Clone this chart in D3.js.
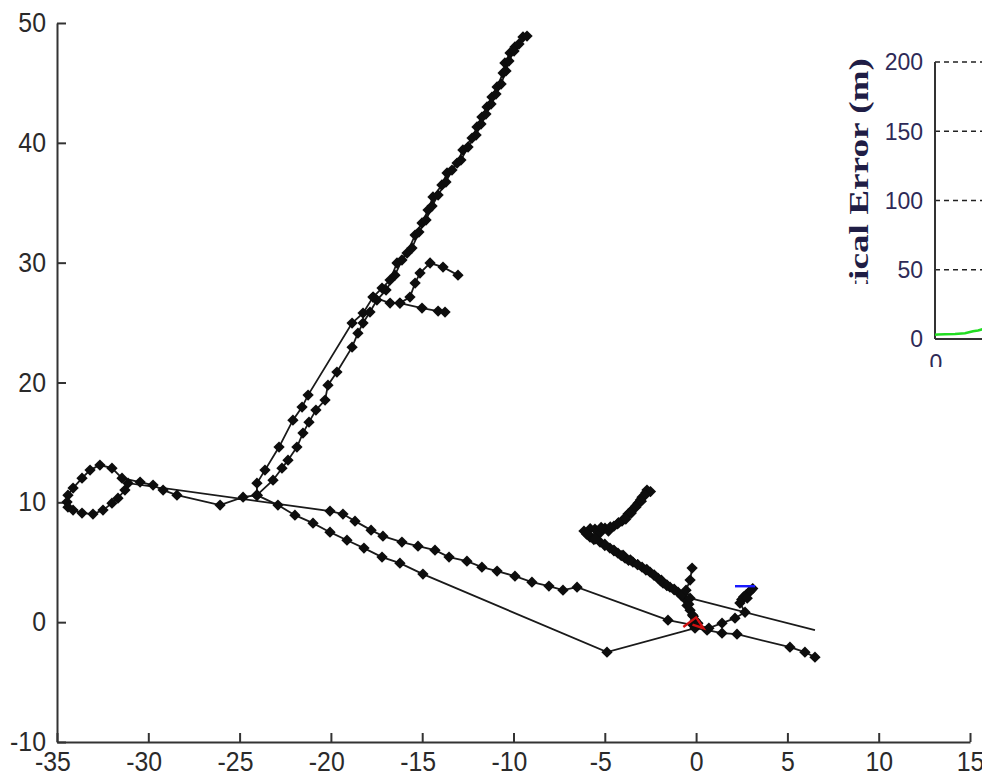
<!DOCTYPE html>
<html>
<head>
<meta charset="utf-8">
<script src="https://cdn.jsdelivr.net/npm/d3@7"></script>
<style>
  body { margin: 0; background: #fff; }
  svg { display: block; }
</style>
</head>
<body>
<div id="chart"></div>
<script>
// tick labels
var xTicks = [-35, -30, -25, -20, -15, -10, -5, 0, 5, 10, 15]
var yTicks = [-10, 0, 10, 20, 30, 40, 50]
var insetTicks = [0, 50, 100, 150, 200]

// tracks with diamond markers, [x, y]
var upLeft = [[-9.48,48.83],[-9.92,48.0],[-10.19,47.5],[-10.47,46.66],[-10.57,45.83],[-10.9,44.66],[-11.18,43.82],
  [-11.45,42.99],[-11.73,42.15],[-12.0,41.32],[-12.27,40.4],[-12.77,39.4],[-13.09,38.31],[-13.64,37.48],[-13.92,36.48],
  [-14.41,35.48],[-14.68,34.39],[-15.01,33.31],[-15.39,32.3],[-15.83,30.8],[-16.38,29.97],[-16.76,28.55],[-17.2,27.88],
  [-17.69,27.13],[-18.24,25.79],[-18.84,24.96],[-21.25,18.95],[-21.58,17.95],[-22.08,16.86],[-22.84,14.61],
  [-23.61,12.69],[-24.05,11.6],[-24.05,10.6]]

var upRight = [[-24.05,10.6],[-23.17,11.85],[-22.68,12.85],[-22.35,13.52],[-21.86,14.61],[-21.53,15.78],[-21.2,16.69],
  [-20.82,17.7],[-20.32,18.53],[-20.16,19.78],[-19.67,20.87],[-18.84,22.95],[-18.52,24.12],[-18.24,24.96],[-17.86,25.88],
  [-17.48,26.88],[-16.98,27.71],[-16.49,28.96],[-16.11,30.22],[-15.56,31.22],[-15.18,32.55],[-14.79,33.56],[-14.46,34.72],
  [-14.13,35.64],[-13.7,36.73],[-13.37,37.73],[-12.88,38.56],[-12.49,39.65],[-12.05,40.65],[-11.78,41.57],[-11.51,42.4],
  [-11.23,43.24],[-10.96,44.07],[-10.68,44.91],[-10.41,46.0],[-10.25,46.83],[-9.97,47.66],[-9.7,48.25],[-9.26,48.91]]

var hook = [[-17.69,27.13],[-16.76,26.63],[-16.22,26.63],[-15.67,27.13],[-15.39,28.3],[-15.12,29.13],[-14.57,29.97],
  [-13.86,29.63],[-13.04,28.96]]
var branch = [[-16.22,26.63],[-15.01,26.21],[-14.13,25.96],[-13.75,25.88]]

var loopUpper = [[-24.05,10.6],[-24.81,10.43],[-26.07,9.77],[-28.43,10.6],[-29.19,11.02],[-29.74,11.44],[-30.45,11.69],
  [-31.44,12.02],[-31.99,12.85],[-32.65,13.11],[-33.19,12.69],[-33.63,12.02],[-34.12,11.19],[-34.4,10.6],[-34.45,10.02],
  [-34.4,9.6],[-34.12,9.35],[-33.63,9.1],[-33.03,9.02],[-32.48,9.35],[-31.99,9.93],[-31.66,10.35],[-31.28,11.02],
  [-31.11,11.6],[-20.05,9.27],[-19.34,9.02],[-18.68,8.43],[-17.8,7.68],[-17.15,7.18],[-16.11,6.68],[-15.23,6.34],
  [-14.3,6.01],[-13.53,5.43],[-12.55,5.09],[-11.73,4.59],[-10.9,4.26],[-9.92,3.84],[-8.99,3.34],[-8.06,3.01],
  [-7.29,2.67],[-6.52,2.92],[-1.54,0.17],[-0.16,-0.25]]

var lower = [[-24.05,10.6],[-22.9,9.77],[-21.97,8.93],[-20.98,8.26],[-20.05,7.51],[-19.12,6.84],[-18.19,6.18],
  [-17.2,5.43],[-16.22,4.92],[-14.96,4.01],[-4.88,-2.5],[-0.06,-0.5],[0.6,-0.67],[1.42,-0.92],[2.24,-1.0],
  [5.14,-2.09],[5.96,-2.5],[6.51,-2.92]]

var clusterA = [[-2.69,11.02],[-2.96,10.43],[-3.18,9.93],[-3.46,9.43],[-3.73,9.02],[-4.06,8.43],[-4.5,8.01],
  [-4.99,7.85],[-5.54,7.76],[-6.14,7.6],[-5.81,7.1],[-5.26,6.68],[-4.72,6.18],[-4.28,5.76],[-3.89,5.34],[-3.46,5.01],
  [-2.96,4.59],[-2.52,4.17],[-2.09,3.67],[-1.81,3.26],[-1.43,2.92],[-0.99,2.5],[-0.55,1.84],[-0.33,1.0],[-0.05,0.17]]
var clusterB = [[-2.75,10.8],[-3.05,10.2],[-3.3,9.7],[-3.6,9.2],[-3.9,8.7],[-4.3,8.2],[-4.8,7.6],[-5.3,7.4],
  [-5.9,7.3],[-5.6,6.9],[-5.0,6.5],[-4.5,6.0],[-4.0,5.6],[-3.6,5.2],[-3.2,4.8],[-2.7,4.4],[-2.3,3.9],[-1.9,3.5],
  [-1.6,3.1],[-1.2,2.7],[-0.8,2.2],[-0.5,1.4],[-0.2,0.6],[0.1,-0.1]]
var clusterC = [[-2.5,10.9],[-2.8,10.6],[-3.0,10.1],[-3.3,9.6],[-3.55,9.1],[-3.85,8.6],[-4.25,8.3],[-4.7,7.95],
  [-5.2,7.9],[-5.8,7.8],[-6.0,7.35],[-5.5,6.95],[-5.0,6.4],[-4.5,5.95],[-4.1,5.55],[-3.7,5.15],[-3.2,4.8],
  [-2.75,4.35],[-2.3,3.95],[-1.95,3.45],[-1.6,3.05],[-1.2,2.75],[-0.75,2.3],[-0.4,1.5],[-0.15,0.5]]

var spur = [[-0.22,4.51],[-0.33,3.51],[-0.55,2.67],[-0.33,2.0]]
var hookRight = [[0.05,-0.25],[0.7,-0.5],[1.42,-0.08],[2.13,0.33],[2.68,0.83],[2.4,1.6],[2.6,2.1],[2.9,2.5],[3.1,2.8]]
var hookRightB = [[2.5,1.9],[2.75,2.3],[3.0,2.65],[2.8,2.0]]

// plain lines (no markers)
var plainLine = [[-0.33,2.0],[6.51,-0.67]]
var blueLine = [[2.13,3.0],[3.23,3.0]]
var redLine = [[-0.7,-0.4],[0.0,0.4],[0.4,-0.5],[-0.2,-0.2]]

// inset: vertical error
var insetGreen = [[0,3.0],[0.3,3.2],[1,3.4],[2,3.6],[3,4.2],[3.8,5.6],[4.3,6.2],[5,7.5]]

var width = 982, height = 777

var svg = d3.select("#chart").append("svg")
    .attr("width", width).attr("height", height)

var x = d3.scaleLinear().domain([-35, 15]).range([57, 970])
var y = d3.scaleLinear().domain([-10, 50]).range([742, 23])

var line = d3.line().x(d => x(d[0])).y(d => y(d[1]))

// axes
var axisColor = "#333"
var gx = svg.append("g")
    .attr("transform", "translate(0," + y(-10) + ")")
    .call(d3.axisBottom(x).tickValues(xTicks).tickSizeInner(-9).tickSizeOuter(0)
        .tickPadding(10).tickFormat(d => String(d)))
var gy = svg.append("g")
    .attr("transform", "translate(" + x(-35) + ",0)")
    .call(d3.axisLeft(y).tickValues(yTicks).tickSizeInner(-9).tickSizeOuter(0)
        .tickPadding(12).tickFormat(d => String(d)))

;[gx, gy].forEach(function(g) {
  g.select(".domain").attr("stroke", axisColor).attr("stroke-width", 2)
  g.selectAll(".tick line").attr("stroke", axisColor).attr("stroke-width", 2)
  g.selectAll(".tick text")
      .attr("fill", "#2a2a2a")
      .style("font-family", "'Liberation Sans', Arial, sans-serif")
      .style("font-size", "27px")
      .attr("transform", "scale(0.92,1)")
})
gx.selectAll(".tick text").attr("dx", d => d < 0 ? -5 : 0)

// tracks
var diamond = d3.symbol().type(d3.symbolSquare).size(64)
var tracks = [upLeft, upRight, hook, branch, loopUpper, lower, clusterA, clusterB, clusterC, spur, hookRight, hookRightB]

var gTracks = svg.append("g")
gTracks.append("path").datum(plainLine)
    .attr("d", line).attr("fill", "none").attr("stroke", "#1a1a1a").attr("stroke-width", 1.8)

tracks.forEach(function(t) {
  gTracks.append("path").datum(t)
      .attr("d", line).attr("fill", "none")
      .attr("stroke", "#1a1a1a").attr("stroke-width", 1.8)
})
tracks.forEach(function(t) {
  gTracks.selectAll(null).data(t).enter().append("path")
      .attr("d", diamond)
      .attr("transform", d => "translate(" + x(d[0]) + "," + y(d[1]) + ") rotate(45)")
      .attr("fill", "#0d0d0d")
})

gTracks.append("path").datum(redLine)
    .attr("d", line).attr("fill", "none").attr("stroke", "#d01010").attr("stroke-width", 2.4)
gTracks.append("path").datum(blueLine)
    .attr("d", line).attr("fill", "none").attr("stroke", "#1a1aff").attr("stroke-width", 2.4)

// inset (cropped corner of a second figure)
var clip = svg.append("defs")
clip.append("clipPath").attr("id", "insetClip")
    .append("rect").attr("x", 830).attr("y", 40).attr("width", 152).attr("height", 327)
clip.append("clipPath").attr("id", "labelClip")
    .append("rect").attr("x", 830).attr("y", 40).attr("width", 50).attr("height", 244)

var inset = svg.append("g").attr("clip-path", "url(#insetClip)")
inset.append("rect").attr("x", 830).attr("y", 40).attr("width", 152).attr("height", 327).attr("fill", "#fff")

var ix = d3.scaleLinear().domain([0, 10]).range([935, 1035])
var iy = d3.scaleLinear().domain([0, 200]).range([339, 62])
var insetColor = "#2e2a57"

inset.selectAll(".grid").data(insetTicks.filter(d => d > 0)).enter().append("line")
    .attr("x1", ix(0)).attr("x2", 990)
    .attr("y1", d => iy(d)).attr("y2", d => iy(d))
    .attr("stroke", "#222").attr("stroke-width", 1.4).attr("stroke-dasharray", "5,4")

inset.append("line")
    .attr("x1", ix(0)).attr("x2", ix(0)).attr("y1", iy(0)).attr("y2", iy(200))
    .attr("stroke", "#333").attr("stroke-width", 2)
inset.append("line")
    .attr("x1", ix(0)).attr("x2", 990).attr("y1", iy(0)).attr("y2", iy(0))
    .attr("stroke", "#333").attr("stroke-width", 2)

inset.append("path").datum(insetGreen)
    .attr("d", d3.line().x(d => ix(d[0])).y(d => iy(d[1])))
    .attr("fill", "none").attr("stroke", "#22dd22").attr("stroke-width", 2.5)

inset.selectAll(".ylab").data(insetTicks).enter().append("text")
    .attr("x", ix(0) - 12).attr("y", d => iy(d)).attr("dy", "0.36em")
    .attr("text-anchor", "end")
    .style("font-family", "'Liberation Sans', Arial, sans-serif").style("font-size", "23px")
    .attr("fill", insetColor)
    .text(d => d)

inset.append("text")
    .attr("x", ix(0) + 1).attr("y", iy(0) + 16).attr("dy", "0.71em")
    .attr("text-anchor", "middle")
    .style("font-family", "'Liberation Sans', Arial, sans-serif").style("font-size", "23px")
    .attr("fill", insetColor)
    .text("0")

inset.append("g").attr("clip-path", "url(#labelClip)")
  .append("text")
    .attr("transform", "translate(868,58) rotate(-90) scale(1.33,1)")
    .attr("text-anchor", "end")
    .style("font-family", "'Liberation Serif', 'Times New Roman', serif")
    .style("font-weight", "bold").style("font-size", "28px")
    .attr("fill", "#1f1d45")
    .text("Vertical Error (m)")
</script>
</body>
</html>
